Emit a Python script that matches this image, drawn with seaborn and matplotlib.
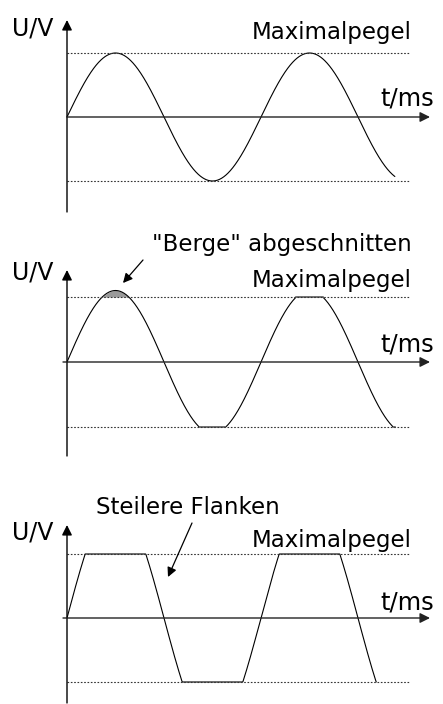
import numpy as np
import seaborn as sns
import matplotlib.pyplot as plt

sns.set_theme(style="white")
plt.rcParams['font.family'] = ['DejaVu Sans']
plt.rcParams['text.color'] = 'black'

# wave parameters (t in periods, U in units of the Maximalpegel)
amplitudes = [1.0, 1.1, 1.8]          # sine amplitude per panel
clip_level = 1.0                      # Maximalpegel
t_end = [1.69, 1.69, 1.594]           # where each curve stops
labels_top = [None, '"Berge" abgeschnitten', 'Steilere Flanken']
max_label = 'Maximalpegel'
x_label = 't/ms'
y_label = 'U/V'

# panel geometry in pixels: (top, bottom, axis line y, pixels per unit U)
panels = [(0, 220, 117, 64), (220, 460, 362, 65), (460, 704, 618, 64)]
px_per_period = 194
x0_px = 67
W, H = 443, 704

fig = plt.figure(figsize=(W / 100, H / 100), dpi=100)

def ux(px):
    return (px - x0_px) / px_per_period

for i, (top, bot, y0, ppu) in enumerate(panels):
    ax = fig.add_axes([0, 1 - bot / H, 1, (bot - top) / H])
    ax.set_xlim(ux(0), ux(W))
    ax.set_ylim(-(bot - y0) / ppu, (y0 - top) / ppu)
    ax.axis('off')
    uy = lambda py: (y0 - py) / ppu

    # signal
    t = np.linspace(0, t_end[i], 800)
    raw = amplitudes[i] * np.sin(2 * np.pi * t)
    u = np.clip(raw, -clip_level, clip_level)
    if i == 1:
        # first hill drawn full, with the cut part shaded
        first = t < 0.5
        ax.fill_between(t[first], clip_level, raw[first], where=raw[first] > clip_level,
                        color='#9a9a9a', lw=0)
        ax.plot(t[first], raw[first], color='black', lw=0.8)
        ax.plot(t[~first], u[~first], color='black', lw=0.8)
        flat = np.abs(raw) >= clip_level
        ax.plot(np.where(flat & ~first, t, np.nan), np.where(flat & ~first, u, np.nan),
                color='#777777', lw=1.4)
    else:
        sns.lineplot(x=t, y=u, ax=ax, color='black', lw=0.8, sort=False)

    # Maximalpegel dotted lines
    for lvl in (clip_level, -clip_level):
        ax.plot([0, ux(410)], [lvl, lvl], color='#333333', lw=0.8, ls=(0, (1.5, 1.5)))

    # axes with arrows
    ax.annotate('', xy=(0, uy(top + (20 if i == 0 else 50 if i == 1 else 65))),
                xytext=(0, uy(bot - (8 if i == 0 else 4 if i == 1 else 1))),
                arrowprops=dict(arrowstyle='-|>', color='black', lw=1, mutation_scale=15,
                                shrinkA=0, shrinkB=0))
    ax.annotate('', xy=(ux(430), 0), xytext=(ux(67 if i == 0 else 63), 0),
                arrowprops=dict(arrowstyle='-|>', color='#222222', lw=1, mutation_scale=15,
                                shrinkA=0, shrinkB=0))

    # texts
    ax.text(ux(12), uy(top + (28 if i == 0 else 53 if i == 1 else 72)), y_label,
            fontsize=17, ha='left', va='center')
    ax.text(ux(412), uy(top + (33 if i == 0 else 60 if i == 1 else 80)), max_label,
            fontsize=16.5, ha='right', va='center')
    ax.text(ux(434), uy(top + (98 if i == 0 else 125 if i == 1 else 143)), x_label,
            fontsize=17.5, ha='right', va='center')

    if i == 1:
        ax.text(ux(412), uy(top + 25), labels_top[i], fontsize=16.5, ha='right', va='center')
        ax.annotate('', xy=(ux(123), uy(283)), xytext=(ux(143), uy(260)),
                    arrowprops=dict(arrowstyle='-|>', color='black', lw=0.9, mutation_scale=14,
                                    shrinkA=0, shrinkB=0))
    if i == 2:
        ax.text(ux(96), uy(top + 47), labels_top[i], fontsize=16.5, ha='left', va='center')
        ax.annotate('', xy=(ux(168), uy(577)), xytext=(ux(192), uy(523)),
                    arrowprops=dict(arrowstyle='-|>', color='black', lw=0.9, mutation_scale=14,
                                    shrinkA=0, shrinkB=0))

fig.savefig('out.png', dpi=100, facecolor='white')
